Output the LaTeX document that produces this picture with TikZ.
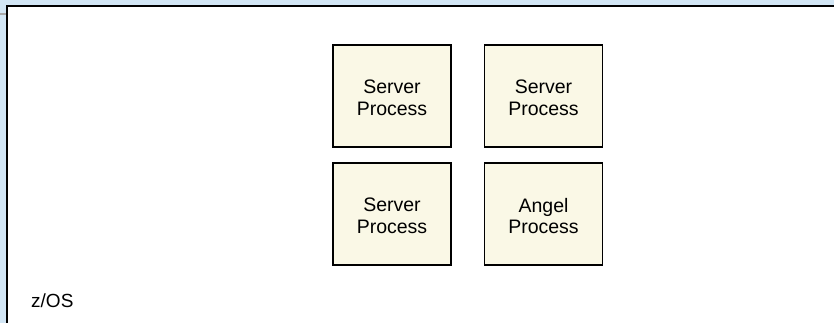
\documentclass[tikz,border=0pt]{standalone}
\usepackage{fontspec}
\setmainfont{Liberation Sans}
\definecolor{paneblue}{HTML}{D2E6F5}
\definecolor{boxfill}{HTML}{FAF8E6}
\definecolor{tickgray}{HTML}{A8A8A8}
\begin{document}
\begin{tikzpicture}[x=1pt,y=-1pt,
  procbox/.style={draw=black,line width=1.6pt,fill=boxfill,minimum width=118pt,
    minimum height=102pt,inner sep=0pt},
  proctext/.style={align=center,inner sep=0pt,yshift=-2pt,
    font=\fontsize{19.5}{21.5}\selectfont}]
  % canvas
  \useasboundingbox (0,0) rectangle (834,323);
  \fill[paneblue] (0,0) rectangle (834,323);
  % system frame (only top and left edges are in view)
  \fill[white] (7,6) rectangle (834,323);
  \draw[line width=2.2pt,line cap=rect] (7,323) -- (7,6) -- (834,6);
  \draw[tickgray,line width=2pt] (0,14) -- (6,14);
  % processes
  \node[procbox,label={[proctext]center:Server\\Process}] (s1) at (392,96) {};
  \node[procbox,label={[proctext]center:Server\\Process}] (s2) at (543.5,96) {};
  \node[procbox,label={[proctext]center:Server\\Process}] (s3) at (392,214) {};
  \node[procbox,label={[proctext]center:Angel\\Process}] (ap) at (543.5,214) {};
  % system label
  \node[anchor=base west,inner sep=0pt,font=\fontsize{19}{21}\selectfont] (os) at (31,307) {z/OS};
\end{tikzpicture}
\end{document}
